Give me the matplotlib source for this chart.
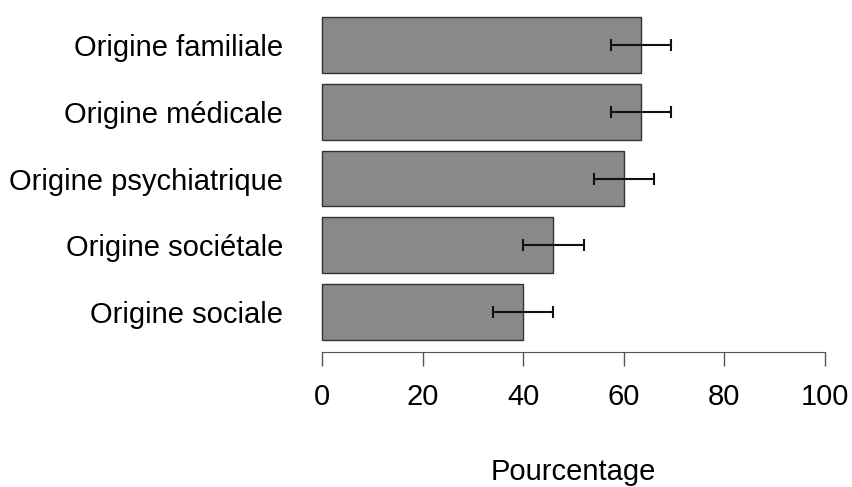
import matplotlib
matplotlib.use("Agg")
import matplotlib.pyplot as plt

plt.rcParams['font.family'] = ['Liberation Sans', 'DejaVu Sans']

# Data (bottom to top)
categories = ["Origine sociale", "Origine sociétale", "Origine psychiatrique",
              "Origine médicale", "Origine familiale"]
values = [40, 46, 60, 63.4, 63.4]
errors = [6, 6, 6, 6, 6]
xticks = [0, 20, 40, 60, 80, 100]

W, H = 853, 487
fig = plt.figure(figsize=(W / 100, H / 100), dpi=100)
left, right = 322, 825
top, bottom = 17, 340
ax = fig.add_axes([left / W, 1 - bottom / H, (right - left) / W, (bottom - top) / H])

# barplot-style positions: width 1, space 0.2
ypos = [0.7 + 1.2 * i for i in range(len(categories))]
ax.barh(ypos, values, height=1.0, color="#898989", edgecolor="#333333",
        linewidth=1.0, clip_on=False)
ax.errorbar(values, ypos, xerr=errors, fmt="none", ecolor="#111111",
            elinewidth=1.5, capsize=4.5, capthick=1.5, clip_on=False)

ax.set_xlim(0, 100)
ax.set_ylim(0.2, 6.0)

for s in ["top", "right", "left"]:
    ax.spines[s].set_visible(False)
ax.spines["bottom"].set_position(("outward", 8.6))
ax.spines["bottom"].set_bounds(0, 100)
ax.spines["bottom"].set_color("#555555")

fs = 21
ax.set_xticks(xticks)
ax.set_xticklabels([str(t) for t in xticks], fontsize=fs)
ax.tick_params(axis="x", length=10, width=1, color="#555555", pad=12.5)

ax.set_yticks(ypos)
ax.set_yticklabels(categories, fontsize=fs)
ax.tick_params(axis="y", length=0, pad=28)

ax.set_xlabel("Pourcentage", fontsize=fs, labelpad=34)

fig.savefig("out.png", dpi=100)
